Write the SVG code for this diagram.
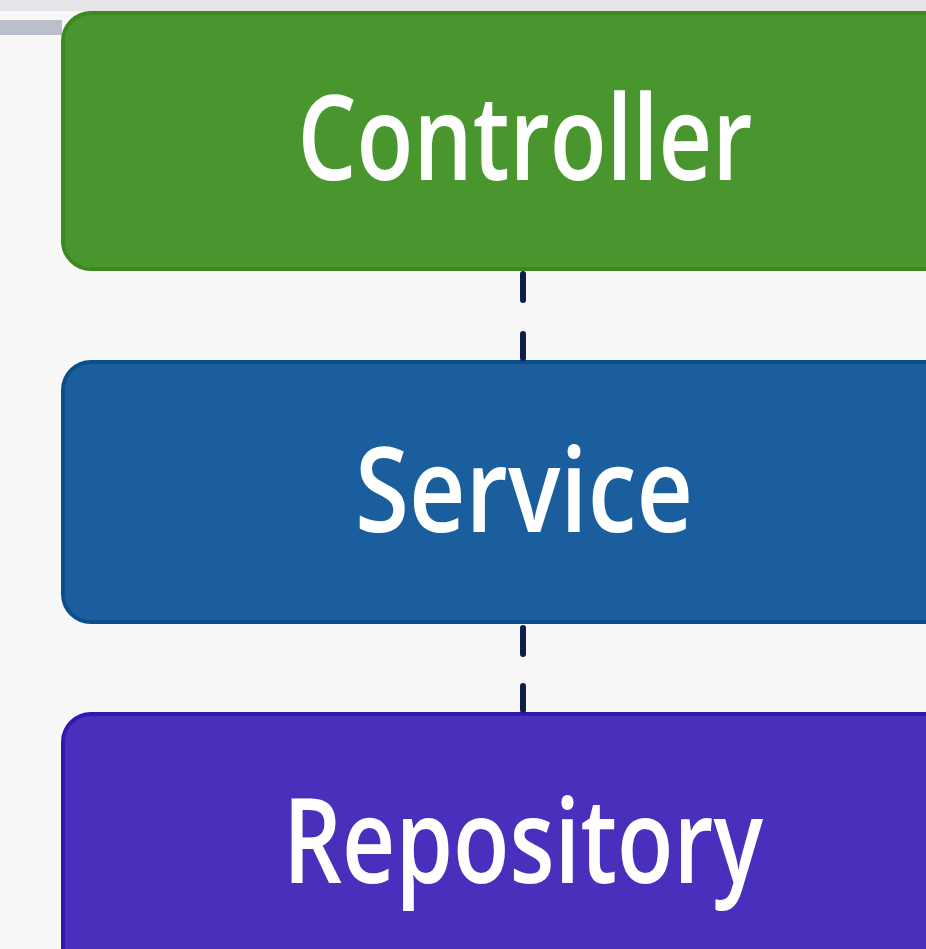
<svg xmlns="http://www.w3.org/2000/svg" width="926" height="949" viewBox="0 0 926 949">
<defs>
<style>
.lbl{font-family:"Open Sans","Liberation Sans",sans-serif;font-size:118px;font-weight:600;fill:#ffffff;text-anchor:middle}
.conn{stroke:#0d1f4a;stroke-width:6;stroke-linecap:round;fill:none}
</style>
</defs>
<rect x="0" y="0" width="926" height="949" fill="#f8f8f8"/>
<rect x="0" y="0" width="926" height="11" fill="#e6e6ea"/>
<rect x="0" y="20" width="62" height="15" fill="#b9c0cc"/>
<g id="controller">
<rect x="63" y="13" width="960" height="256" rx="28" fill="#4a962e" stroke="#3a8a1e" stroke-width="4"/>
<text class="lbl" x="525" y="180" textLength="455" lengthAdjust="spacingAndGlyphs">Controller</text>
</g>
<g id="service">
<rect x="63" y="362" width="960" height="260" rx="28" fill="#1a5e9e" stroke="#0c4e8a" stroke-width="4"/>
<text class="lbl" x="524" y="532" textLength="338" lengthAdjust="spacingAndGlyphs">Service</text>
</g>
<g id="repository">
<rect x="63" y="714" width="960" height="300" rx="28" fill="#4a2fbd" stroke="#3218b0" stroke-width="4"/>
<text class="lbl" x="523" y="883" textLength="480" lengthAdjust="spacingAndGlyphs">Repository</text>
</g>
<g id="connectors">
<line class="conn" x1="523" y1="274" x2="523" y2="300"/>
<line class="conn" x1="523" y1="334" x2="523" y2="358"/>
<line class="conn" x1="523" y1="628" x2="523" y2="654"/>
<line class="conn" x1="523" y1="686" x2="523" y2="710"/>
</g>
</svg>
